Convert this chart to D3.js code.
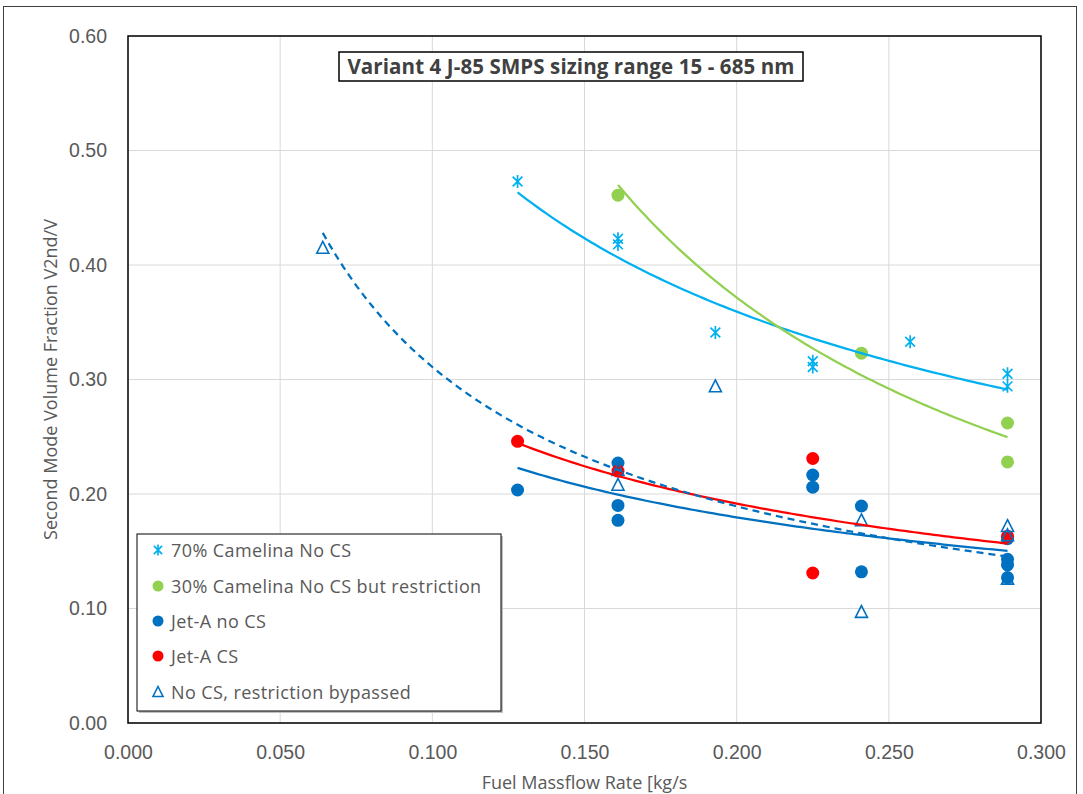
<!DOCTYPE html>
<html>
<head>
<meta charset="utf-8">
<script src="https://cdn.jsdelivr.net/npm/d3@7"></script>
<style>
  html, body { margin: 0; padding: 0; background: #fff; }
  svg { display: block; }
</style>
</head>
<body>
<svg id="chart" width="1083" height="794"></svg>
<script>
// ---------- data ----------
const chartTitle = "Variant 4 J-85 SMPS sizing range 15 - 685 nm";
const xAxisTitle = "Fuel Massflow Rate [kg/s";
const yAxisTitle = "Second Mode Volume Fraction V2nd/V";
const xTicks = [0, 0.05, 0.10, 0.15, 0.20, 0.25, 0.30];
const yTicks = [0, 0.1, 0.2, 0.3, 0.4, 0.5, 0.6];

const seriesNames = ["70% Camelina No CS", "30% Camelina No CS but restriction", "Jet-A no CS", "Jet-A CS", "No CS, restriction bypassed"];

const camelina70X = [0.128, 0.161, 0.161, 0.193, 0.225, 0.225, 0.257, 0.289, 0.289];
const camelina70Y = [0.473, 0.423, 0.418, 0.341, 0.316, 0.311, 0.333, 0.305, 0.294];

const camelina30X = [0.161, 0.241, 0.289, 0.289];
const camelina30Y = [0.461, 0.323, 0.262, 0.228];

const jetANoCSX = [0.128, 0.161, 0.161, 0.161, 0.225, 0.225, 0.241, 0.241, 0.289, 0.289, 0.289, 0.289];
const jetANoCSY = [0.2035, 0.227, 0.190, 0.177, 0.2166, 0.206, 0.1895, 0.132, 0.161, 0.143, 0.138, 0.127];

const jetACSX = [0.128, 0.161, 0.225, 0.225, 0.289];
const jetACSY = [0.246, 0.220, 0.231, 0.131, 0.163];

const bypassX = [0.064, 0.161, 0.161, 0.193, 0.241, 0.241, 0.289, 0.289, 0.289];
const bypassY = [0.415, 0.221, 0.208, 0.294, 0.177, 0.097, 0.172, 0.164, 0.126];

// ---------- layout ----------
const svg = d3.select("#chart");
const plot = { left: 128, top: 36, right: 1041, bottom: 723 };
const x = d3.scaleLinear().domain([0, 0.3]).range([plot.left, plot.right]);
const y = d3.scaleLinear().domain([0, 0.6]).range([plot.bottom, plot.top]);

const fontMain = "'Liberation Sans', Arial, sans-serif";
const fontOffice = "'Open Sans', 'Noto Sans', sans-serif";
const textCol = "#595959";

// outer chart border
svg.append("rect").attr("x", 3.5).attr("y", 6.5).attr("width", 1073).attr("height", 800)
  .attr("fill", "none").attr("stroke", "#3f3f3f").attr("stroke-width", 1);

// gridlines
svg.append("g").selectAll("line").data(xTicks).join("line")
  .attr("x1", d => x(d)).attr("x2", d => x(d))
  .attr("y1", plot.top).attr("y2", plot.bottom)
  .attr("stroke", "#d9d9d9").attr("stroke-width", 1);
svg.append("g").selectAll("line").data(yTicks).join("line")
  .attr("x1", plot.left).attr("x2", plot.right)
  .attr("y1", d => y(d)).attr("y2", d => y(d))
  .attr("stroke", "#d9d9d9").attr("stroke-width", 1);

// axes (labels only)
const xAxis = d3.axisBottom(x).tickValues(xTicks).tickFormat(d3.format(".3f")).tickSize(0).tickPadding(22);
const gx = svg.append("g").attr("transform", `translate(0,${plot.bottom})`).call(xAxis);
gx.select(".domain").remove();
gx.selectAll("text").attr("font-family", fontMain).attr("font-size", 19.5).attr("fill", textCol);

const yAxis = d3.axisLeft(y).tickValues(yTicks).tickFormat(d3.format(".2f")).tickSize(0).tickPadding(21);
const gy = svg.append("g").attr("transform", `translate(${plot.left},0)`).call(yAxis);
gy.select(".domain").remove();
gy.selectAll("text").attr("font-family", fontMain).attr("font-size", 19.5).attr("fill", textCol);

// plot frame
svg.append("rect").attr("x", plot.left).attr("y", plot.top)
  .attr("width", plot.right - plot.left).attr("height", plot.bottom - plot.top)
  .attr("fill", "none").attr("stroke", "#000").attr("stroke-width", 1.5);

// axis titles
svg.append("text").attr("x", (plot.left + plot.right) / 2).attr("y", 789)
  .attr("text-anchor", "middle").attr("font-family", fontOffice).attr("font-size", 18)
  .attr("fill", textCol).text(xAxisTitle);
svg.append("text").attr("transform", `translate(57,${(plot.top + plot.bottom) / 2}) rotate(-90)`)
  .attr("text-anchor", "middle").attr("font-family", fontOffice).attr("font-size", 18)
  .attr("fill", textCol).text(yAxisTitle);

// ---------- trendlines (power fits, as Excel) ----------
function powerFit(xs, ys) {
  const n = xs.length;
  const lx = xs.map(Math.log), ly = ys.map(Math.log);
  const sx = d3.sum(lx), sy = d3.sum(ly);
  const sxx = d3.sum(lx, v => v * v), sxy = d3.sum(lx.map((v, i) => v * ly[i]));
  const b = (n * sxy - sx * sy) / (n * sxx - sx * sx);
  const a = Math.exp((sy - b * sx) / n);
  return { a, b, x0: d3.min(xs), x1: d3.max(xs) };
}
const line = d3.line().x(d => x(d[0])).y(d => y(d[1])).curve(d3.curveLinear);
function drawFit(xs, ys, color, dash) {
  const f = powerFit(xs, ys);
  const pts = d3.range(0, 101).map(i => {
    const xv = f.x0 + (f.x1 - f.x0) * i / 100;
    return [xv, f.a * Math.pow(xv, f.b)];
  });
  svg.append("path").datum(pts).attr("d", line).attr("fill", "none")
    .attr("stroke", color).attr("stroke-width", 2.25)
    .attr("stroke-dasharray", dash || null);
}

const cLight = "#00b0f0", cGreen = "#92d050", cBlue = "#0070c0", cRed = "#ff0000";

// ---------- markers ----------
function star(g, cx, cy, s, color) {
  const r = s / 2, k = r * 0.75;
  const d = `M${cx},${cy - r}L${cx},${cy + r}` +
    `M${cx - k},${cy - k}L${cx + k},${cy + k}` +
    `M${cx - k},${cy + k}L${cx + k},${cy - k}`;
  g.append("path").attr("d", d).attr("stroke", color).attr("stroke-width", 1.7).attr("fill", "none");
}
function tri(g, cx, cy, s, color) {
  const h = s * 0.9;
  const d = `M${cx},${cy - h / 2 - 1}L${cx + s / 2},${cy + h / 2}L${cx - s / 2},${cy + h / 2}Z`;
  g.append("path").attr("d", d).attr("stroke", color).attr("stroke-width", 1.6).attr("fill", "none");
}
function dot(g, cx, cy, r, color) {
  g.append("circle").attr("cx", cx).attr("cy", cy).attr("r", r).attr("fill", color);
}

const gm = svg.append("g");
camelina70X.forEach((v, i) => star(gm, x(v), y(camelina70Y[i]), 13, cLight));
camelina30X.forEach((v, i) => dot(gm, x(v), y(camelina30Y[i]), 6.5, cGreen));
jetANoCSX.forEach((v, i) => dot(gm, x(v), y(jetANoCSY[i]), 6.5, cBlue));
jetACSX.forEach((v, i) => dot(gm, x(v), y(jetACSY[i]), 6.5, cRed));
bypassX.forEach((v, i) => tri(gm, x(v), y(bypassY[i]), 12, cBlue));

drawFit(camelina70X, camelina70Y, cLight);
drawFit(camelina30X, camelina30Y, cGreen);
drawFit(jetANoCSX, jetANoCSY, cBlue);
drawFit(jetACSX, jetACSY, cRed);
drawFit(bypassX, bypassY, cBlue, "7,5");

// ---------- title box ----------
const tg = svg.append("g");
tg.append("rect").attr("x", 339).attr("y", 52).attr("width", 464).attr("height", 29)
  .attr("fill", "#fff").attr("stroke", "#000").attr("stroke-width", 1.5);
tg.append("text").attr("x", 571).attr("y", 74).attr("text-anchor", "middle")
  .attr("font-family", fontOffice).attr("font-weight", "bold").attr("font-size", 20.5)
  .attr("letter-spacing", 0.1)
  .attr("fill", "#404040").text(chartTitle);

// ---------- legend ----------
const lg = svg.append("g");
lg.append("rect").attr("x", 139).attr("y", 536).attr("width", 364).attr("height", 177)
  .attr("fill", "#bfbfbf");
lg.append("rect").attr("x", 137).attr("y", 534).attr("width", 364).attr("height", 177)
  .attr("fill", "#fff").attr("stroke", "#000").attr("stroke-width", 1);
const rowY = [550, 586, 621, 656, 692];
const legendColors = [cLight, cGreen, cBlue, cRed, cBlue];
seriesNames.forEach((name, i) => {
  const cy = rowY[i];
  if (i === 0) star(lg, 158, cy, 11, cLight);
  else if (i === 4) tri(lg, 158, cy, 10, cBlue);
  else dot(lg, 158, cy, 5.5, legendColors[i]);
  lg.append("text").attr("x", 171).attr("y", cy + 6.5).attr("font-family", fontOffice)
    .attr("font-size", 18).attr("letter-spacing", 0.4).attr("fill", textCol).text(name);
});
</script>
</body>
</html>
